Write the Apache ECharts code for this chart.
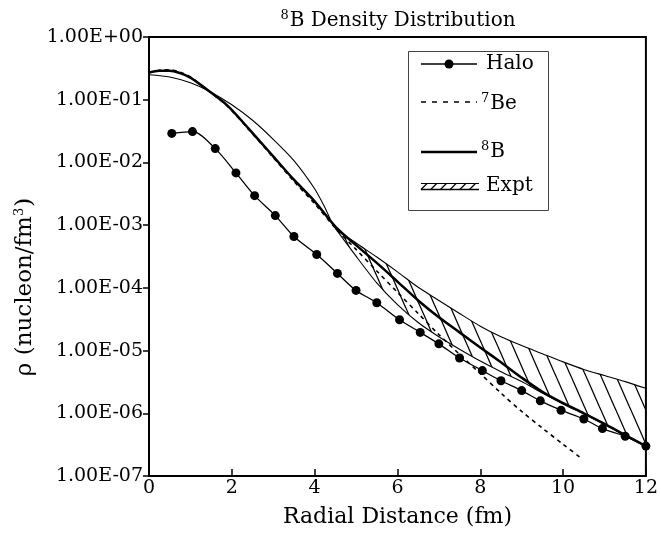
<!DOCTYPE html>
<html><head><meta charset="utf-8">
<script src="https://cdn.jsdelivr.net/npm/echarts@6/dist/echarts.min.js"></script>
<style>html,body{margin:0;padding:0;background:#fff}#c{width:661px;height:533px}</style>
</head><body><div id="c"></div>
<script>
// ---- data ----
const haloX = [0.55,1.05,1.6,2.1,2.55,3.05,3.5,4.05,4.55,5.0,5.5,6.05,6.55,7.0,7.5,8.05,8.5,9.0,9.45,9.95,10.5,10.95,11.5,12.0];
const haloY = [2.9e-2,3.1e-2,1.66e-2,6.8e-3,2.95e-3,1.42e-3,6.6e-4,3.4e-4,1.7e-4,9.1e-5,5.8e-5,3.1e-5,1.95e-5,1.28e-5,7.6e-6,4.8e-6,3.3e-6,2.3e-6,1.58e-6,1.12e-6,8.1e-7,5.7e-7,4.3e-7,3.0e-7];

const b8X = [0,0.25,0.5,0.75,1.0,1.4,1.9,2.4,3.0,3.5,4.0,4.5,5.0,5.5,6.0,6.5,7.0,7.5,8.0,8.5,9.0,9.5,10.0,10.5,11.0,11.5,12.0];
const b8Y = [0.27,0.29,0.29,0.265,0.225,0.145,0.08,0.035,0.0125,5.3e-3,2.4e-3,9.5e-4,4.8e-4,2.5e-4,1.26e-4,6.3e-5,3.4e-5,1.95e-5,1.12e-5,6.5e-6,3.7e-6,2.2e-6,1.45e-6,1.0e-6,6.8e-7,4.5e-7,3.0e-7];

const be7X = [0,0.25,0.5,0.75,1.0,1.4,1.9,2.4,3.0,3.5,4.0,4.5,5.0,5.5,6.0,6.5,7.0,7.5,8.0,8.5,9.0,9.5,10.0,10.45];
const be7Y = [0.27,0.295,0.3,0.275,0.23,0.145,0.078,0.034,0.012,5.0e-3,2.2e-3,9.0e-4,4.1e-4,1.86e-4,8.5e-5,3.9e-5,1.8e-5,8.7e-6,4.3e-6,2.1e-6,1.07e-6,5.8e-7,3.2e-7,1.9e-7];

const exptUpperX = [0,0.5,1.0,1.5,2.0,2.5,3.0,3.5,4.0,4.25,4.5,5.0,5.5,6.0,6.5,7.0,7.5,8.0,8.5,9.0,9.5,10.0,10.5,11.0,11.5,12.0];
const exptUpperY = [0.25,0.23,0.186,0.132,0.083,0.047,0.0234,0.0107,0.0038,0.0019,8.9e-4,5.2e-4,3.1e-4,1.8e-4,1.02e-4,6.3e-5,3.9e-5,2.45e-5,1.66e-5,1.2e-5,8.9e-6,6.6e-6,5.0e-6,4.0e-6,3.2e-6,2.5e-6];

const exptLowerX = [4.5,5.0,5.5,6.0,6.5,7.0,7.5,8.0,8.5,9.0,9.5,10.0,10.5,11.0,11.5,12.0];
const exptLowerY = [8.9e-4,3.2e-4,1.2e-4,5.4e-5,2.8e-5,1.66e-5,1.05e-5,6.8e-6,4.6e-6,3.2e-6,2.1e-6,1.41e-6,9.8e-7,6.6e-7,4.4e-7,3.0e-7];

const xTickLabels = ['0','2','4','6','8','10','12'];
const yTickLabels = ['1.00E-07','1.00E-06','1.00E-05','1.00E-04','1.00E-03','1.00E-02','1.00E-01','1.00E+00'];

// ---- helpers ----
const FONT = 'DejaVu Serif';
function pairs(xs, ys){ return xs.map((x,i)=>[x, ys[i]]); }

const pc = document.createElement('canvas'); pc.width = 15; pc.height = 34;
const g = pc.getContext('2d'); g.strokeStyle = '#000'; g.lineWidth = 1.3;
for (let k=-1;k<=1;k++){ g.beginPath(); g.moveTo(k*15-15,-34); g.lineTo(k*15+30,68); g.stroke(); }

const chart = echarts.init(document.getElementById('c'), null, {renderer:'canvas'});
const sup = {fontFamily:FONT, fontSize:13, verticalAlign:'top', lineHeight:24, padding:[0,1,0,0]};

const legendEls = [
  {type:'rect', shape:{x:408.5,y:51.5,width:140,height:159}, style:{fill:'#fff', stroke:'#444', lineWidth:1}},
  {type:'line', shape:{x1:421,y1:64,x2:477,y2:64}, style:{stroke:'#000', lineWidth:1.5}},
  {type:'circle', shape:{cx:449,cy:64,r:4.5}, style:{fill:'#000'}},
  {type:'text', x:486, y:64, style:{text:'Halo', fontFamily:FONT, fontSize:20, fill:'#000', verticalAlign:'middle'}},
  {type:'line', shape:{x1:421,y1:102,x2:477,y2:102}, style:{stroke:'#000', lineWidth:1.5, lineDash:[5,6]}},
  {type:'text', x:481, y:104, style:{text:'{s|7}{n|Be}', verticalAlign:'middle', rich:{s:sup, n:{fontFamily:FONT,fontSize:20,fill:'#000',lineHeight:24}}}},
  {type:'line', shape:{x1:421,y1:152,x2:477,y2:152}, style:{stroke:'#000', lineWidth:2.5}},
  {type:'text', x:481, y:152, style:{text:'{s|8}{n|B}', verticalAlign:'middle', rich:{s:sup, n:{fontFamily:FONT,fontSize:20,fill:'#000',lineHeight:24}}}},
  {type:'line', shape:{x1:421,y1:183.5,x2:479,y2:183.5}, style:{stroke:'#000', lineWidth:1}},
  {type:'line', shape:{x1:421,y1:189.5,x2:479,y2:189.5}, style:{stroke:'#000', lineWidth:1.6}}
];
for (let k=0;k<6;k++){
  legendEls.push({type:'line', shape:{x1:421+k*9.7,y1:189.5,x2:427+k*9.7,y2:183.5}, style:{stroke:'#000', lineWidth:1.2}});
}
legendEls.push({type:'text', x:486, y:186, style:{text:'Expt', fontFamily:FONT, fontSize:20, fill:'#000', verticalAlign:'middle'}});

const option = {
  animation:false,
  backgroundColor:'#fff',
  grid:{left:149, right:13, top:37, bottom:54, show:true, borderColor:'#000', borderWidth:2, backgroundColor:'transparent'},
  xAxis:{
    type:'value', min:0, max:12, interval:2,
    axisLine:{lineStyle:{color:'#000', width:2}},
    axisTick:{inside:true, length:7, lineStyle:{color:'#000', width:1.5}},
    splitLine:{show:false},
    axisLabel:{color:'#000', fontFamily:FONT, fontSize:19, margin:3, formatter:(v)=>xTickLabels[Math.round(v/2)]},
    name:'Radial Distance (fm)', nameLocation:'middle', nameGap:30,
    nameTextStyle:{color:'#000', fontFamily:FONT, fontSize:22}
  },
  yAxis:{
    type:'log', logBase:10, min:1e-7, max:1, splitNumber:7,
    axisLine:{lineStyle:{color:'#000', width:2}},
    axisTick:{inside:false, length:6, lineStyle:{color:'#000', width:1.5}},
    splitLine:{show:false},
    axisLabel:{color:'#000', fontFamily:FONT, fontSize:19, margin:6,
      formatter:(v)=>{ const e = Math.round(Math.log10(v)); return yTickLabels[e+7] || ''; }}
  },
  graphic:[
    {type:'text', x:398, y:21, style:{text:'{s|8}{n|B Density Distribution}', align:'center', verticalAlign:'middle',
      rich:{s:sup, n:{fontFamily:FONT,fontSize:20,fill:'#000',lineHeight:24}}}},
    {type:'text', x:25, y:287, rotation:Math.PI/2, style:{text:'{n|ρ (nucleon/fm}{s|3}{n|)}', align:'center', verticalAlign:'middle',
      rich:{s:sup, n:{fontFamily:FONT,fontSize:23,fill:'#000',lineHeight:24}}}},
    ...legendEls
  ],
  series:[
    {type:'custom', name:'Expt band', silent:true, z:1, clip:true,
      renderItem:function(params, api){
        const pts = [];
        for (let i=0;i<exptUpperX.length;i++) if (exptUpperX[i] >= exptLowerX[0]) pts.push(api.coord([exptUpperX[i], exptUpperY[i]]));
        for (let i=exptLowerX.length-1;i>=0;i--) pts.push(api.coord([exptLowerX[i], exptLowerY[i]]));
        return {type:'polygon', shape:{points:pts}, style:{fill:{image:pc, repeat:'repeat'}, stroke:null}};
      },
      data:[[exptLowerX[0], exptLowerY[0]]]
    },
    {type:'line', name:'Expt upper', data:pairs(exptUpperX, exptUpperY), showSymbol:false, symbol:'none', smooth:0.25,
      lineStyle:{color:'#000', width:1.1}, z:2},
    {type:'line', name:'Expt lower', data:pairs(exptLowerX, exptLowerY), showSymbol:false, symbol:'none', smooth:0.2,
      lineStyle:{color:'#000', width:1.1}, z:2},
    {type:'line', name:'7Be', data:pairs(be7X, be7Y), showSymbol:false, symbol:'none', smooth:0.3,
      lineStyle:{color:'#000', width:1.6, type:[4,4]}, z:3},
    {type:'line', name:'8B', data:pairs(b8X, b8Y), showSymbol:false, symbol:'none', smooth:0.3,
      lineStyle:{color:'#000', width:2.5}, z:4},
    {type:'line', name:'Halo', data:pairs(haloX, haloY), symbol:'circle', symbolSize:9, smooth:0.3,
      itemStyle:{color:'#000'}, lineStyle:{color:'#000', width:1.3}, z:5}
  ]
};
chart.setOption(option);
</script></body></html>
